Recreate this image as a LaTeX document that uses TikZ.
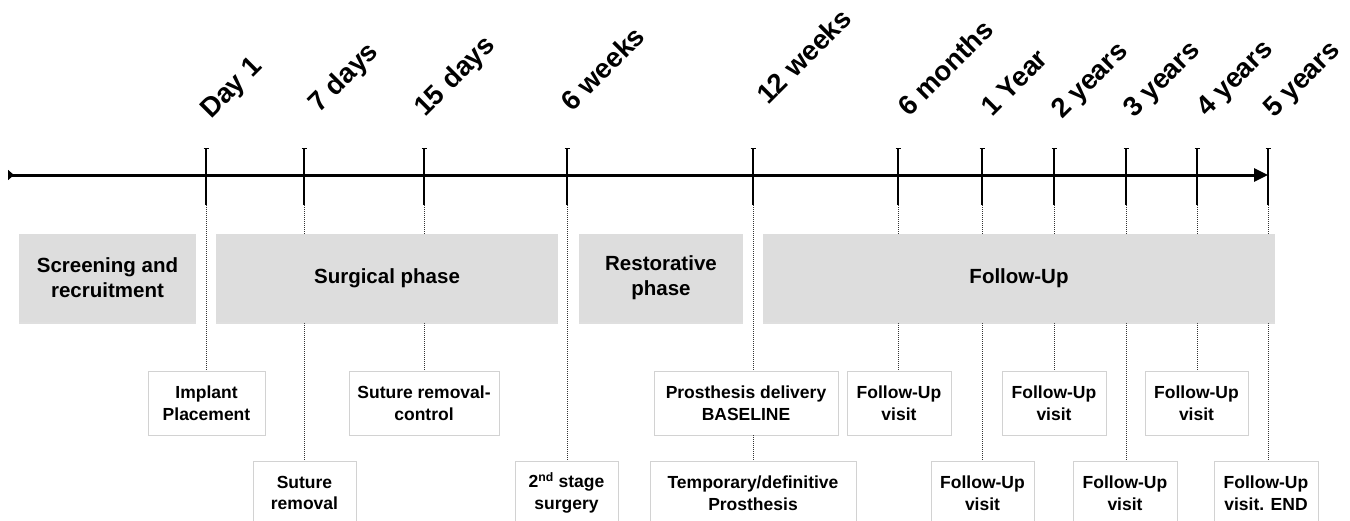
\documentclass[tikz,border=0pt]{standalone}
\usepackage{fontspec}
\setmainfont{Liberation Sans}
\usetikzlibrary{arrows.meta,shadows}
\definecolor{phasegray}{HTML}{DDDDDD}
\definecolor{boxline}{HTML}{D2D2D2}
\definecolor{guidegray}{HTML}{333333}
\newcommand{\phasefont}{\fontsize{20.5}{25}\selectfont\bfseries}
\newcommand{\eventfont}{\fontsize{17.5}{21.5}\selectfont\bfseries}
\newcommand{\stampfont}{\fontsize{27.5}{28}\selectfont\bfseries}

\begin{document}
\begin{tikzpicture}[x=1pt,y=-1pt,
    phase/.style={fill=phasegray, align=center, font=\phasefont,
      minimum height=88pt, inner sep=0pt,
      drop shadow={shadow xshift=0pt,shadow yshift=-1.5pt,opacity=0.25}},
    event/.style={fill=white, draw=boxline, line width=0.8pt, align=center,
      font=\eventfont, minimum height=64pt, inner sep=0pt},
    guide/.style={guidegray, line width=1pt, dash pattern=on 1pt off 1pt},
    tickline/.style={line width=1.3pt, {Bar[width=5pt,line width=1.3pt]}-},
    stamp/.style={rotate=45, anchor=base west, inner sep=0pt, font=\stampfont}]

  \useasboundingbox (0,0) rectangle (1350,520);

  % time line
  \coordinate (start) at (8,175);
  \coordinate (end) at (1268,175);
  \draw[line width=3pt, {Triangle[reversed,length=6pt,width=10pt]}-{Triangle[length=14pt,width=13pt]}]
    (start) -- (end);

  % ticks and their labels
  \foreach \n/\x/\lx/\ly/\lab in {1/206/211/120/Day 1, 2/304/319/114/7 days,
      3/424/425/118/15 days, 4/567/572/113/6 weeks, 5/753/768/106/12 weeks,
      6/898/909/118/6 months, 7/982/992/118/1 Year, 8/1054/1062/120/2 years,
      9/1126/1134/119/3 years, 10/1197/1207/118/4 years, 11/1268/1274/119/5 years}{
    \coordinate (t\n) at (\x,148);
    \coordinate (b\n) at (\x,205);
    \draw[tickline] (t\n) -- (b\n);
    \node[stamp] (lab\n) at (\lx,\ly) {\lab};
  }

  % events, first row
  \node[event, minimum width=117pt] (implant) at (206.5,403) {Implant\\Placement};
  \node[event, minimum width=150pt] (sutctrl) at (424,403) {Suture removal-\\control};
  \node[event, minimum width=184pt] (baseline) at (746,403) {Prosthesis delivery\\BASELINE};
  \node[event, minimum width=104pt] (fu6m) at (899,403) {Follow-Up\\visit};
  \node[event, minimum width=104pt] (fu2y) at (1054,403) {Follow-Up\\visit};
  \node[event, minimum width=103pt] (fu4y) at (1196.5,403) {Follow-Up\\visit};

  % events, second row
  \node[event, minimum width=103pt] (sutrem) at (304.5,493) {Suture\\removal};
  \node[event, minimum width=103pt] (stage2) at (566.5,493) {2\textsuperscript{nd} stage\\surgery};
  \node[event, minimum width=206pt] (temp) at (753,493) {Temporary/definitive\\Prosthesis};
  \node[event, minimum width=103pt] (fu1y) at (982.5,493) {Follow-Up\\visit};
  \node[event, minimum width=104pt] (fu3y) at (1125,493) {Follow-Up\\visit};
  \node[event, minimum width=104pt] (fuend) at (1266,493) {Follow-Up\\visit. END};

  % dotted guides from the ticks
  \draw[guide] (b1) -- (b1 |- implant.north);
  \draw[guide] (b2) -- (b2 |- sutrem.north);
  \draw[guide] (b3) -- (b3 |- sutctrl.north);
  \draw[guide] (b4) -- (b4 |- stage2.north);
  \draw[guide] (b5) -- (b5 |- baseline.north);
  \draw[guide] (b5 |- baseline.south) -- (b5 |- temp.north);
  \draw[guide] (b6) -- (b6 |- fu6m.north);
  \draw[guide] (b7) -- (b7 |- fu1y.north);
  \draw[guide] (b8) -- (b8 |- fu2y.north);
  \draw[guide] (b9) -- (b9 |- fu3y.north);
  \draw[guide] (b10) -- (b10 |- fu4y.north);
  \draw[guide] (b11) -- (b11 |- fuend.north);

  % phases
  \node[phase, minimum width=177pt] (screen) at (107.5,278) {Screening and\\recruitment};
  \node[phase, minimum width=342pt] (surgery) at (387,278) {Surgical phase};
  \node[phase, minimum width=164pt] (restore) at (661,278) {Restorative\\phase};
  \node[phase, minimum width=512pt] (followup) at (1019,278) {Follow-Up};
\end{tikzpicture}
\end{document}
